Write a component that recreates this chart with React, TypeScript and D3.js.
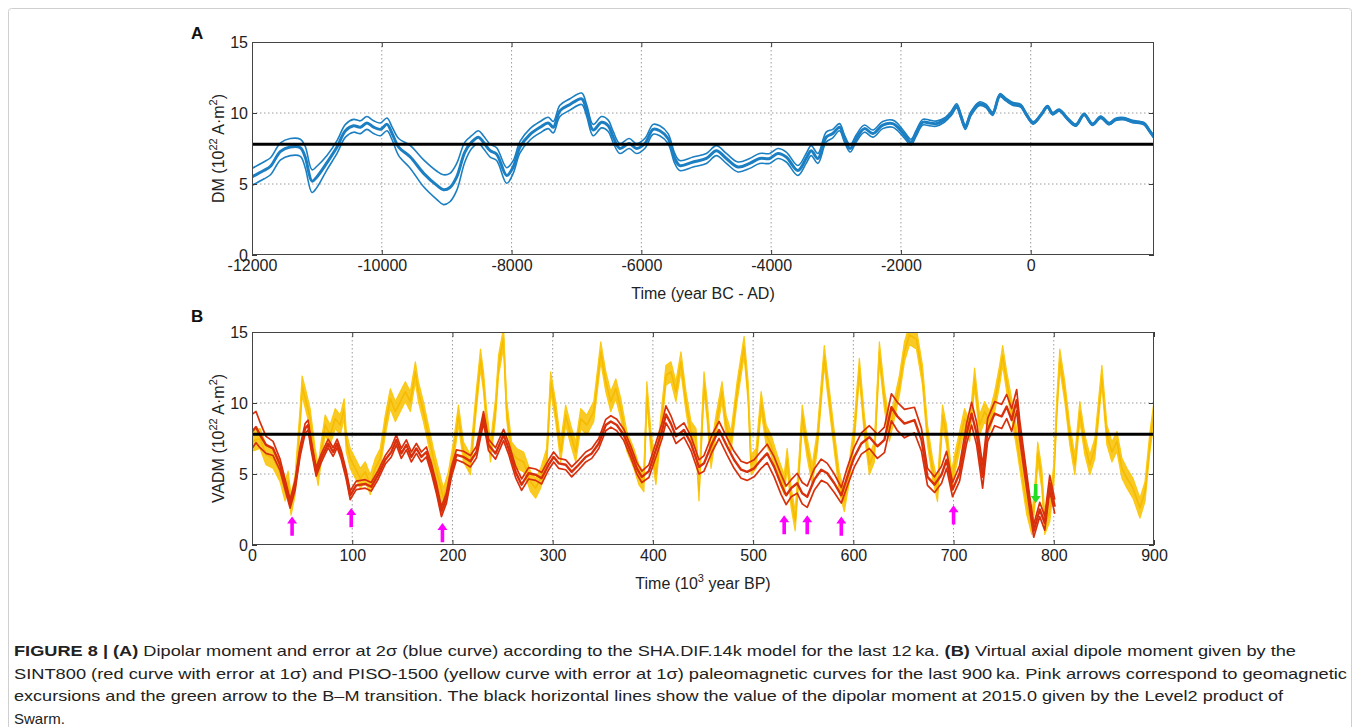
import React, { useEffect, useRef } from 'react';
import * as d3 from 'd3';

// ---- panel A : SHA.DIF.14k dipole moment (10^22 A.m^2) ----
const dmYears = [
  -12000, -11820, -11715, -11560, -11410, -11255, -11180, -11075, -11000, -10845,
  -10690, -10560, -10435, -10330, -10230, -10125, -10020, -9920, -9840, -9740,
  -9560, -9355, -9150, -9050, -8950, -8845, -8720, -8615, -8510, -8435,
  -8330, -8230, -8075, -7975, -7870, -7715, -7560, -7435, -7357, -7255,
  -7100, -6920, -6844, -6742, -6613, -6510, -6434, -6331, -6188, -6075,
  -5947, -5818, -5716, -5588, -5485, -5408, -5203, -4998, -4844, -4690,
  -4511, -4331, -4177, -4023, -3895, -3767, -3588, -3460, -3383, -3280,
  -3152, -3050, -2946, -2870, -2782, -2690, -2562, -2433, -2280, -2126,
  -2049, -1946, -1844, -1767, -1664, -1562, -1459, -1331, -1228, -1141,
  -1074, -1008, -921, -792, -690, -587, -474, -382, -280, -151,
  -74, 38, 156, 259, 336, 438, 567, 695, 823, 951,
  1079, 1208, 1310, 1438, 1566, 1746, 1823, 1900
];
const dmMid = [
  5.5, 5.95, 6.25, 7.3, 7.6, 7.55, 6.9, 5.2, 5.5, 6.5,
  7.6, 8.75, 9.1, 9.0, 9.3, 9.0, 8.85, 9.2, 8.55, 7.6,
  6.9, 5.75, 4.9, 4.6, 4.75, 5.5, 7.25, 7.95, 8.3, 7.95,
  7.35, 7.1, 5.6, 6.2, 7.6, 8.5, 9.0, 9.3, 9.0, 10.15,
  10.6, 11.0, 10.2, 8.8, 9.35, 9.1, 8.3, 7.5, 7.85, 7.5,
  7.85, 8.85, 8.75, 8.2, 6.8, 6.3, 6.55, 6.8, 7.35, 6.8,
  6.2, 6.45, 6.8, 6.8, 7.15, 6.9, 5.95, 6.8, 7.35, 6.8,
  8.3, 8.55, 9.0, 8.2, 7.5, 8.2, 8.9, 8.55, 9.15, 9.25,
  9.0, 8.45, 7.95, 8.55, 9.35, 9.3, 9.25, 9.5, 9.95, 10.5,
  9.75, 9.0, 9.95, 10.65, 10.5, 9.95, 11.25, 10.95, 10.65, 10.5,
  9.95, 9.3, 9.85, 10.45, 9.95, 10.2, 9.6, 9.15, 9.9, 9.2,
  9.7, 9.25, 9.55, 9.6, 9.4, 9.25, 8.8, 8.3
];
const dmErr = [
  0.6, 0.6, 0.6, 0.6, 0.6, 0.6, 0.75, 0.8, 0.75, 0.5,
  0.45, 0.45, 0.45, 0.45, 0.45, 0.45, 0.45, 0.45, 0.45, 0.6,
  0.8, 0.95, 1.0, 1.05, 1.0, 0.95, 0.7, 0.45, 0.45, 0.45,
  0.45, 0.45, 0.55, 0.45, 0.4, 0.4, 0.4, 0.4, 0.4, 0.4,
  0.4, 0.4, 0.4, 0.4, 0.4, 0.4, 0.4, 0.35, 0.35, 0.35,
  0.35, 0.35, 0.35, 0.35, 0.35, 0.35, 0.35, 0.35, 0.35, 0.35,
  0.35, 0.35, 0.35, 0.35, 0.35, 0.35, 0.35, 0.35, 0.35, 0.35,
  0.35, 0.3, 0.25, 0.25, 0.25, 0.25, 0.25, 0.25, 0.25, 0.25,
  0.25, 0.22, 0.2, 0.2, 0.2, 0.2, 0.18, 0.15, 0.15, 0.15,
  0.15, 0.15, 0.14, 0.13, 0.12, 0.12, 0.11, 0.1, 0.1, 0.1,
  0.09, 0.09, 0.08, 0.08, 0.08, 0.08, 0.08, 0.08, 0.08, 0.08,
  0.08, 0.08, 0.08, 0.08, 0.08, 0.08, 0.08, 0.08
];

// ---- panel B : SINT800 (red) ----
const sintAge = [
  0, 4, 8, 14, 21, 28, 34, 38, 43, 48, 53, 56, 59, 64, 69, 76, 81, 85, 89, 94,
  98, 104, 113, 119, 126, 133, 139, 144, 149, 154, 159, 164, 169, 174, 179, 184, 189, 194, 199, 204,
  211, 218, 224, 231, 236, 243, 251, 256, 263, 269, 276, 283, 289, 296, 301, 306, 313, 319, 326, 333,
  339, 346, 353, 358, 364, 371, 378, 384, 389, 396, 403, 409, 413, 418, 423, 431, 438, 446, 451, 459,
  466, 474, 481, 488, 494, 501, 508, 514, 521, 528, 533, 538, 544, 549, 554, 561, 568, 574, 581, 588,
  594, 601, 608, 616, 624, 631, 638, 644, 651, 661, 668, 674, 681, 688, 693, 699, 706, 713, 718, 723,
  729, 734, 741, 748, 753, 758, 763, 766, 771, 776, 780, 786, 791, 796, 801
];
const sintMid = [
  8.0, 8.3, 7.75, 7.05, 6.8, 5.65, 4.0, 2.9, 4.2, 6.6, 8.2, 8.45, 7.05, 5.15, 6.1, 7.15, 6.55, 7.15, 6.35, 4.95,
  3.5, 4.2, 4.3, 4.1, 4.95, 6.0, 6.55, 7.4, 6.45, 7.05, 6.2, 6.8, 6.2, 6.55, 5.4, 4.0, 2.35, 3.3, 5.15, 6.35,
  6.2, 5.9, 6.55, 9.0, 7.05, 6.45, 7.75, 6.8, 5.15, 4.25, 5.05, 4.95, 4.7, 5.65, 6.2, 5.75, 5.65, 5.15, 5.65, 6.2,
  6.45, 7.15, 8.45, 8.7, 8.45, 7.75, 6.55, 5.4, 4.8, 5.2, 6.7, 8.0, 9.2, 8.55, 7.65, 8.1, 7.15, 5.5, 5.75, 7.15,
  8.1, 6.95, 6.0, 5.3, 5.15, 5.4, 6.0, 6.45, 5.5, 4.25, 3.5, 4.0, 4.35, 3.65, 3.4, 4.6, 5.3, 5.05, 4.35, 3.5,
  4.8, 6.2, 7.15, 7.6, 6.95, 7.4, 9.7, 9.05, 8.55, 8.8, 7.4, 4.8, 4.25, 4.95, 6.0, 3.9, 5.05, 7.85, 9.25, 7.85,
  4.8, 8.1, 9.25, 9.05, 9.75, 8.8, 10.2, 8.1, 5.5, 2.95, 1.0, 2.5, 1.55, 4.35, 2.7
];
const sintErr = [
  1.2, 1.1, 0.9, 0.6, 0.5, 0.4, 0.35, 0.3, 0.35, 0.35, 0.35, 0.35, 0.35, 0.3, 0.3, 0.3, 0.3, 0.3, 0.3, 0.3,
  0.3, 0.3, 0.3, 0.3, 0.3, 0.3, 0.35, 0.35, 0.35, 0.35, 0.35, 0.35, 0.35, 0.35, 0.35, 0.35, 0.35, 0.35, 0.35, 0.35,
  0.4, 0.4, 0.4, 0.4, 0.4, 0.4, 0.4, 0.4, 0.4, 0.4, 0.4, 0.4, 0.4, 0.35, 0.35, 0.35, 0.35, 0.35, 0.35, 0.35,
  0.35, 0.35, 0.4, 0.4, 0.4, 0.4, 0.4, 0.4, 0.4, 0.45, 0.5, 0.55, 0.6, 0.55, 0.5, 0.5, 0.5, 0.5, 0.55, 0.6,
  0.6, 0.6, 0.6, 0.6, 0.6, 0.6, 0.6, 0.65, 0.7, 0.7, 0.65, 0.6, 0.7, 0.75, 0.75, 0.75, 0.75, 0.7, 0.65, 0.55,
  0.65, 0.7, 0.75, 0.8, 0.85, 0.9, 0.95, 1.0, 1.0, 0.9, 0.8, 0.6, 0.55, 0.6, 0.6, 0.5, 0.55, 0.7, 0.8, 0.8,
  0.8, 0.8, 0.85, 0.85, 0.85, 0.8, 0.75, 0.7, 0.6, 0.5, 0.45, 0.5, 0.5, 0.55, 0.5
];

// ---- panel B : PISO-1500 (yellow) ----
const pisoAge = [
  0, 8, 14, 21, 28, 33, 36, 39, 43, 48, 50, 54, 58, 63, 66, 69, 73, 78, 83, 88,
  92, 94, 98, 103, 108, 113, 118, 123, 128, 133, 138, 143, 148, 153, 158, 163, 166, 171, 176, 181,
  186, 191, 196, 201, 206, 211, 218, 223, 228, 231, 234, 238, 243, 246, 251, 254, 259, 264, 271, 278,
  283, 288, 294, 298, 303, 308, 313, 318, 323, 328, 334, 341, 348, 353, 358, 363, 368, 374, 381, 386,
  391, 394, 398, 403, 408, 413, 418, 423, 428, 433, 438, 443, 446, 451, 454, 458, 463, 469, 473, 478,
  484, 491, 495, 498, 503, 508, 513, 518, 524, 531, 534, 538, 542, 546, 549, 554, 559, 564, 571, 576,
  581, 586, 591, 596, 601, 606, 611, 616, 621, 626, 631, 636, 641, 646, 651, 656, 663, 669, 674, 679,
  684, 689, 693, 698, 701, 706, 711, 716, 721, 726, 731, 736, 741, 746, 749, 753, 758, 763, 768, 773,
  778, 781, 784, 788, 791, 796, 800, 803, 806, 811, 816, 821, 826, 831, 836, 841, 848, 853, 858, 863,
  868, 873, 879, 886, 891, 896, 900
];
const pisoMid = [
  7.3, 7.5, 6.35, 6.1, 5.15, 3.8, 4.5, 2.8, 4.2, 8.9, 11.2, 10.1, 8.9, 6.1, 4.9, 6.55, 8.45, 7.75, 8.9, 8.45,
  9.6, 7.3, 6.1, 5.4, 4.7, 5.15, 4.25, 5.4, 6.1, 8.45, 10.3, 9.4, 10.1, 10.8, 10.1, 12.2, 10.8, 9.4, 7.75, 6.1,
  4.7, 3.3, 4.45, 6.55, 9.15, 6.55, 5.65, 9.6, 13.1, 11.5, 8.9, 6.55, 9.6, 12.65, 14.6, 9.6, 6.55, 6.1, 5.85, 4.45,
  4.0, 4.7, 6.1, 11.5, 9.4, 6.55, 9.15, 7.75, 6.55, 8.9, 8.45, 9.4, 13.6, 11.5, 10.1, 11.0, 9.6, 7.3, 6.1, 4.95,
  4.45, 10.8, 7.3, 4.95, 8.45, 11.95, 12.2, 10.8, 12.9, 10.1, 8.0, 7.5, 3.8, 11.5, 9.6, 6.1, 8.45, 10.8, 8.45, 7.3,
  10.8, 14.0, 10.8, 5.65, 6.1, 10.1, 7.75, 7.05, 5.65, 4.25, 6.1, 3.3, 1.7, 5.65, 9.15, 6.8, 4.95, 7.3, 13.35, 10.3,
  7.3, 4.45, 3.05, 5.15, 8.0, 12.45, 8.45, 5.65, 6.55, 13.6, 10.3, 8.0, 9.6, 11.25, 13.6, 14.8, 14.5, 11.95, 7.75, 5.4,
  3.75, 9.15, 7.75, 4.45, 5.65, 7.3, 8.9, 8.0, 11.75, 8.45, 9.4, 8.7, 10.1, 11.95, 13.35, 11.5, 9.6, 7.5, 5.15, 2.85,
  1.45, 3.3, 6.55, 4.7, 1.45, 2.35, 4.95, 9.6, 13.1, 10.8, 7.75, 5.65, 9.4, 7.05, 5.65, 6.8, 11.95, 7.75, 6.55, 7.3,
  5.4, 4.7, 4.0, 2.6, 3.75, 7.3, 9.4
];
const pisoErr = 0.7;

// ---- reference values and arrows ----
const swarmDM = 7.8;
const excursionAges = [40, 99, 190, 531, 554, 588, 700];
const excursionTips = [2.0, 2.6, 1.55, 2.1, 2.1, 2.0, 2.8];
const arrowSpan = 1.35;
const bmAge = 782;
const bmTip = 2.95;

const vTicks = [0, 5, 10, 15];
const dmXTicks = [-12000, -10000, -8000, -6000, -4000, -2000, 0];
const vadmXTicks = [0, 100, 200, 300, 400, 500, 600, 700, 800, 900];

const captionLines = [
  [['FIGURE 8 | (A)', true], [' Dipolar moment and error at 2σ (blue curve) according to the SHA.DIF.14k model for the last 12\u2009ka. ', false], ['(B)', true], [' Virtual axial dipole moment given by the', false]],
  [['SINT800 (red curve with error at 1σ) and PISO-1500 (yellow curve with error at 1σ) paleomagnetic curves for the last 900\u2009ka. Pink arrows correspond to geomagnetic', false]],
  [['excursions and the green arrow to the B–M transition. The black horizontal lines show the value of the dipolar moment at 2015.0 given by the Level2 product of', false]],
  [['Swarm.', false]]
];
const captionWidths = [1282, 1333, 1269, 0];

const FONT = '"Liberation Sans", Arial, Helvetica, sans-serif';
const LEFT = 252, RIGHT = 1154;

function drawPanel(svg, { top, bottom, domain, xTicks, letter, letterY, xLabel, yLabel, id }) {
  const x = d3.scaleLinear().domain(domain).range([LEFT, RIGHT]);
  const y = d3.scaleLinear().domain([0, 15]).range([bottom, top]);

  svg.append('defs').append('clipPath').attr('id', id)
    .append('rect').attr('x', LEFT).attr('y', top).attr('width', RIGHT - LEFT).attr('height', bottom - top);

  // dotted grid
  const grid = svg.append('g').attr('stroke', '#9c9c9c').attr('stroke-width', 1).attr('stroke-dasharray', '1.5,2.5');
  grid.selectAll('.vg').data(xTicks.filter(d => d > domain[0] && d < domain[1]))
    .join('line').attr('x1', d => x(d)).attr('x2', d => x(d)).attr('y1', top).attr('y2', bottom);
  grid.selectAll('.hg').data(vTicks.filter(d => d > 0 && d < 15))
    .join('line').attr('x1', LEFT).attr('x2', RIGHT).attr('y1', d => y(d)).attr('y2', d => y(d));

  const plot = svg.append('g').attr('clip-path', `url(#${id})`);
  const over = svg.append('g');

  // axes (MATLAB style, ticks inside on all four sides)
  const fmt = d => String(d);
  const axes = svg.append('g');
  const styleAxis = a => {
    a.select('.domain').remove();
    a.attr('font-family', FONT).attr('font-size', 16).attr('color', '#3a3a3a');
    a.selectAll('text').attr('fill', '#222');
  };
  axes.append('g').attr('transform', `translate(0,${bottom})`)
    .call(d3.axisBottom(x).tickValues(xTicks).tickFormat(fmt).tickSizeInner(-5).tickSizeOuter(0).tickPadding(5))
    .call(styleAxis);
  axes.append('g').attr('transform', `translate(0,${top})`)
    .call(d3.axisTop(x).tickValues(xTicks).tickFormat(() => '').tickSizeInner(-5).tickSizeOuter(0))
    .call(styleAxis);
  axes.append('g').attr('transform', `translate(${LEFT},0)`)
    .call(d3.axisLeft(y).tickValues(vTicks).tickFormat(fmt).tickSizeInner(-5).tickSizeOuter(0).tickPadding(4))
    .call(styleAxis);
  axes.append('g').attr('transform', `translate(${RIGHT},0)`)
    .call(d3.axisRight(y).tickValues(vTicks).tickFormat(() => '').tickSizeInner(-5).tickSizeOuter(0))
    .call(styleAxis);
  axes.append('rect').attr('x', LEFT + 0.5).attr('y', top + 0.5)
    .attr('width', RIGHT - LEFT - 1).attr('height', bottom - top - 1)
    .attr('fill', 'none').attr('stroke', '#444').attr('stroke-width', 1);

  // panel letter
  svg.append('text').attr('x', 191).attr('y', letterY).attr('font-family', FONT)
    .attr('font-size', 17).attr('font-weight', 'bold').attr('fill', '#111').text(letter);

  // x label (with optional superscript)
  const xl = svg.append('text').attr('x', (LEFT + RIGHT) / 2).attr('y', bottom + 37)
    .attr('text-anchor', 'middle').attr('font-family', FONT).attr('font-size', 16).attr('fill', '#222');
  xLabel.forEach(([s, sup]) => {
    if (sup) xl.append('tspan').attr('dy', -7).attr('font-size', 11).text(s);
    else xl.append('tspan').attr('dy', xl.selectAll('tspan').size() ? 7 : 0).text(s);
  });

  // y label
  const yl = svg.append('text').attr('transform', `translate(224,${(top + bottom) / 2}) rotate(-90)`)
    .attr('text-anchor', 'middle').attr('font-family', FONT).attr('font-size', 16).attr('fill', '#222');
  yLabel.forEach(([s, sup], i) => {
    if (sup) yl.append('tspan').attr('dy', -7).attr('font-size', 11).text(s);
    else yl.append('tspan').attr('dy', i === 0 ? 0 : 7).text(s);
  });

  return { x, y, plot, over };
}

function arrowPath(px, yTip, yBase) {
  const dir = yBase > yTip ? 1 : -1;
  const head = 7 * dir, hw = 5, sw = 1.8;
  return `M${px},${yTip}L${px + hw},${yTip + head}L${px + sw},${yTip + head}L${px + sw},${yBase}` +
    `L${px - sw},${yBase}L${px - sw},${yTip + head}L${px - hw},${yTip + head}Z`;
}

const App = () => {
  const svgRef = useRef(null);

  useEffect(() => {
    document.body.style.margin = '0';
    const svg = d3.select(svgRef.current);
    svg.selectAll('*').remove();

    // outer figure frame
    svg.append('rect').attr('x', 8.5).attr('y', 8.5).attr('width', 1343).attr('height', 760)
      .attr('rx', 3).attr('fill', '#fff').attr('stroke', '#cfcfcf');

    // ---------- panel A ----------
    const A = drawPanel(svg, {
      top: 42, bottom: 255, domain: [-12000, 1900], xTicks: dmXTicks, letter: 'A', letterY: 39,
      xLabel: [['Time (year BC - AD)', false]],
      yLabel: [['DM (10', false], ['22', true], [' A·m', false], ['2', true], [')', false]],
      id: 'clipA'
    });
    const dmIdx = d3.range(dmYears.length);
    const lineA = k => d3.line().curve(d3.curveCatmullRom.alpha(0.5))
      .x(i => A.x(dmYears[i])).y(i => A.y(dmMid[i] + k * dmErr[i]));
    const blue = '#1b7fc2';
    [-1, 1].forEach(k => {
      A.plot.append('path').datum(dmIdx).attr('d', lineA(k)).attr('fill', 'none')
        .attr('stroke', blue).attr('stroke-width', 1.6);
    });
    A.plot.append('path').datum(dmIdx).attr('d', lineA(0)).attr('fill', 'none')
      .attr('stroke', blue).attr('stroke-width', 3);
    A.plot.append('line').attr('x1', A.x(-12000)).attr('x2', A.x(1900))
      .attr('y1', A.y(swarmDM)).attr('y2', A.y(swarmDM)).attr('stroke', '#000').attr('stroke-width', 3);

    // ---------- panel B ----------
    const B = drawPanel(svg, {
      top: 332, bottom: 545, domain: [0, 900], xTicks: vadmXTicks, letter: 'B', letterY: 322,
      xLabel: [['Time (10', false], ['3', true], [' year BP)', false]],
      yLabel: [['VADM (10', false], ['22', true], [' A·m', false], ['2', true], [')', false]],
      id: 'clipB'
    });

    // yellow PISO-1500 band
    const yellow = '#f8c000';
    const pIdx = d3.range(pisoAge.length);
    B.plot.append('path').datum(pIdx)
      .attr('d', d3.area().x(i => B.x(pisoAge[i])).y0(i => B.y(pisoMid[i] - pisoErr)).y1(i => B.y(pisoMid[i] + pisoErr)))
      .attr('fill', yellow).attr('fill-opacity', 0.85);
    [-1, 0, 1].forEach(k => {
      B.plot.append('path').datum(pIdx)
        .attr('d', d3.line().x(i => B.x(pisoAge[i])).y(i => B.y(pisoMid[i] + k * pisoErr)))
        .attr('fill', 'none').attr('stroke', k === 0 ? '#f6bb00' : '#fbc912')
        .attr('stroke-width', k === 0 ? 1.6 : 1.2).attr('stroke-linejoin', 'round');
    });

    // red SINT800 with error curves
    const red = '#d8300c';
    const sIdx = d3.range(sintAge.length);
    [-1, 1, 0].forEach(k => {
      B.plot.append('path').datum(sIdx)
        .attr('d', d3.line().x(i => B.x(sintAge[i])).y(i => B.y(sintMid[i] + k * sintErr[i])))
        .attr('fill', 'none').attr('stroke', red).attr('stroke-width', k === 0 ? 2.4 : 1.7)
        .attr('stroke-linejoin', 'round');
    });

    B.plot.append('line').attr('x1', B.x(0)).attr('x2', B.x(900))
      .attr('y1', B.y(swarmDM)).attr('y2', B.y(swarmDM)).attr('stroke', '#000').attr('stroke-width', 3);

    // excursion arrows (magenta) and B-M transition (green)
    B.over.selectAll('.exc').data(excursionAges).join('path')
      .attr('d', (a, i) => arrowPath(B.x(a), B.y(excursionTips[i]), B.y(excursionTips[i] - arrowSpan)))
      .attr('fill', '#ff00ff');
    B.over.append('path')
      .attr('d', arrowPath(B.x(bmAge), B.y(bmTip), B.y(bmTip + arrowSpan)))
      .attr('fill', '#22dd22');

    // ---------- caption ----------
    captionLines.forEach((parts, li) => {
      const t = svg.append('text').attr('x', 14).attr('y', 656 + li * 22.5)
        .attr('font-family', FONT).attr('font-size', 15).attr('fill', '#222');
      if (captionWidths[li]) t.attr('textLength', captionWidths[li]).attr('lengthAdjust', 'spacingAndGlyphs');
      parts.forEach(([s, bold]) => {
        t.append('tspan').attr('font-weight', bold ? 'bold' : 'normal').text(s);
      });
    });
  }, []);

  return (
    <svg ref={svgRef} width={1360} height={727}
      style={{ position: 'absolute', left: 0, top: 0, display: 'block', background: '#fff' }} />
  );
};

export default App;
